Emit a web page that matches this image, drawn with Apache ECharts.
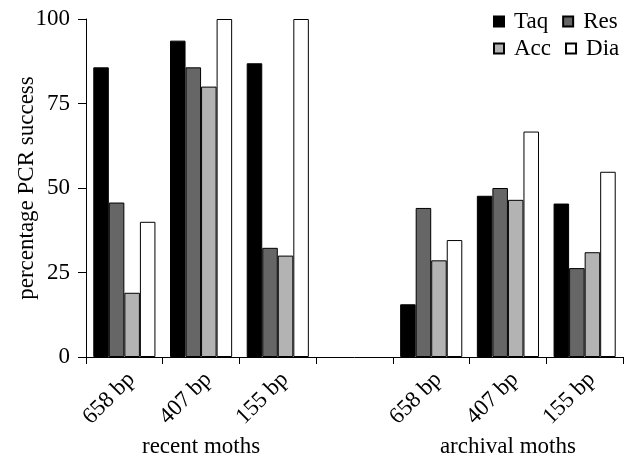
<!DOCTYPE html>
<html>
<head>
<meta charset="utf-8">
<script src="https://cdn.jsdelivr.net/npm/echarts@6/dist/echarts.min.js"></script>
<style>html,body{margin:0;padding:0;background:#fff}#c{width:634px;height:459px}</style>
</head>
<body>
<div id="c"></div>
<script>
var categories = ['658 bp', '407 bp', '155 bp', '', '658 bp', '407 bp', '155 bp'];
var groupLabels = ['recent moths', 'archival moths'];
var yName = 'percentage PCR success';
var taq = [85.7, 93.6, 86.9, null, 15.6, 47.7, 45.4];
var res = [45.7, 85.7, 32.3, null, 44.1, 50.0, 26.3];
var acc = [19.0, 80.0, 30.0, null, 28.6, 46.5, 31.0];
var dia = [40.0, 100, 100, null, 34.6, 66.7, 54.8];
var yTicks = [0, 25, 50, 75, 100];

var FONT = '"Liberation Serif", "Times New Roman", serif';
var chart = echarts.init(document.getElementById('c'));
function bar(name, data, color) {
  return {
    name: name, type: 'bar', data: data,
    barGap: '0%', barCategoryGap: '19%',
    itemStyle: { color: color, borderColor: '#000', borderWidth: 1 }
  };
}
var legendText = { fontFamily: FONT, fontSize: 23, color: '#000', padding: [0, 0, 0, 5] };
chart.setOption({
  animation: false,
  textStyle: { fontFamily: FONT, color: '#000' },
  grid: { left: 86, right: 11, top: 19, bottom: 102, containLabel: false },
  legend: [
    { data: ['Taq', 'Res'], left: 493, top: 10, icon: 'rect', itemWidth: 10, itemHeight: 10, itemGap: 14, textStyle: legendText, padding: 0 },
    { data: ['Acc', 'Dia'], left: 493, top: 37, icon: 'rect', itemWidth: 10, itemHeight: 10, itemGap: 14, textStyle: legendText, padding: 0 }
  ],
  xAxis: {
    type: 'category', data: categories,
    axisLine: { lineStyle: { color: '#000', width: 1 } },
    axisTick: { show: true, length: 7, lineStyle: { color: '#000' } },
    axisLabel: { show: false }
  },
  yAxis: {
    type: 'value', min: 0, max: 100, interval: 25,
    axisLine: { show: true, lineStyle: { color: '#000', width: 1 } },
    axisTick: { show: true, length: 8, lineStyle: { color: '#000' } },
    axisLabel: { fontSize: 23, color: '#000', fontFamily: FONT, margin: 16,
      formatter: function (v) { return yTicks.indexOf(v) >= 0 ? String(v) : ''; } },
    splitLine: { show: false }
  },
  series: [bar('Taq', taq, '#000000'), bar('Res', res, '#666666'), bar('Acc', acc, '#b3b3b3'), bar('Dia', dia, '#ffffff')]
});
var px = function (i) { return chart.convertToPixel({ xAxisIndex: 0 }, i); };
var y0 = chart.convertToPixel({ yAxisIndex: 0 }, 0);
var yMid = chart.convertToPixel({ yAxisIndex: 0 }, 50);
var graphics = [];
categories.forEach(function (c, i) {
  if (!c) return;
  graphics.push({ type: 'text', x: px(i) + 7, y: y0 + 19, rotation: Math.PI / 4,
    style: { text: c, font: '23px ' + FONT, fill: '#000', textAlign: 'right', textVerticalAlign: 'middle' } });
});
graphics.push({ type: 'text', x: (px(0) + px(2)) / 2, y: 447, style: { text: groupLabels[0], font: '23px ' + FONT, fill: '#000', textAlign: 'center', textVerticalAlign: 'middle' } });
graphics.push({ type: 'text', x: (px(4) + px(6)) / 2, y: 447, style: { text: groupLabels[1], font: '23px ' + FONT, fill: '#000', textAlign: 'center', textVerticalAlign: 'middle' } });
graphics.push({ type: 'text', x: 27, y: yMid, rotation: Math.PI / 2, style: { text: yName, font: '23px ' + FONT, fill: '#000', textAlign: 'center', textVerticalAlign: 'middle' } });
chart.setOption({ graphic: graphics });
</script>
</body>
</html>
